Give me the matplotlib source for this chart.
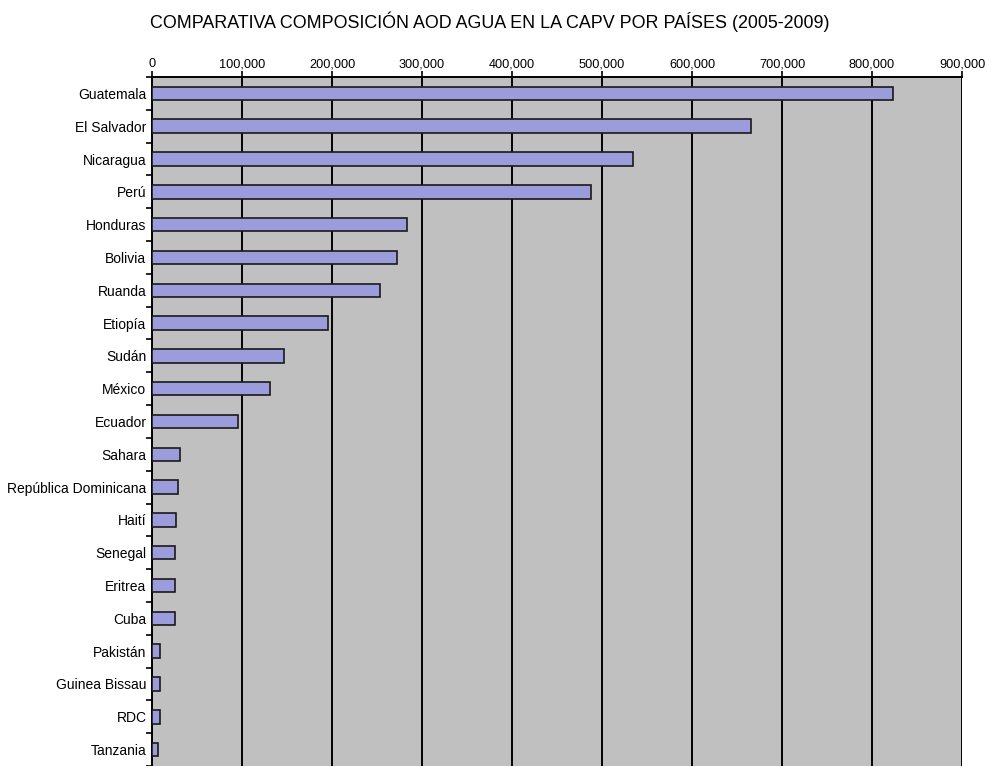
import numpy as np
import matplotlib.pyplot as plt
from matplotlib.ticker import FuncFormatter, FixedLocator

plt.rcParams['font.family'] = ['Liberation Sans', 'DejaVu Sans']

countries = ['Guatemala', 'El Salvador', 'Nicaragua', 'Perú', 'Honduras', 'Bolivia',
             'Ruanda', 'Etiopía', 'Sudán', 'México', 'Ecuador', 'Sahara',
             'República Dominicana', 'Haití', 'Senegal', 'Eritrea', 'Cuba',
             'Pakistán', 'Guinea Bissau', 'RDC', 'Tanzania']
values = [823000, 666000, 534000, 488000, 283000, 272500, 253500, 195500, 146500,
          131000, 95500, 31000, 29000, 27000, 25500, 25500, 25500,
          9000, 9000, 9000, 6500]
xticks = [0, 100000, 200000, 300000, 400000, 500000, 600000, 700000, 800000, 900000]

fig = plt.figure(figsize=(9.99, 7.66), dpi=100)
ax = fig.add_axes([0.1522, 0.0, 0.963 - 0.1522, 0.8995])
ax.set_facecolor('#c0c0c0')

y = np.arange(len(countries))
ax.barh(y, values, height=0.41, color='#9c9cdc', edgecolor='#1a1a1a', linewidth=1.2, zorder=3)

ax.set_xlim(0, 900000)
ax.set_ylim(len(countries) - 0.5, -0.5)
ax.set_xticks(xticks)
ax.xaxis.set_major_formatter(FuncFormatter(lambda v, p: f'{int(v):,}'))
ax.xaxis.tick_top()
ax.tick_params(axis='x', direction='out', length=4, width=1.2, labelsize=9.2, pad=1, colors='black')
ax.grid(axis='x', color='black', linewidth=1.4, zorder=1)

ax.set_yticks(y)
ax.set_yticklabels(countries, fontsize=10)
ax.tick_params(axis='y', length=0, pad=4)
ax.yaxis.set_minor_locator(FixedLocator(np.arange(-0.5, len(countries), 1)))
ax.tick_params(axis='y', which='minor', direction='out', length=4, width=1.2)

for s in ['right', 'bottom']:
    ax.spines[s].set_visible(False)
for s in ['top', 'left']:
    ax.spines[s].set_linewidth(1.4)

fig.text(0.49, 0.971, 'COMPARATIVA COMPOSICIÓN AOD AGUA EN LA CAPV POR PAÍSES (2005-2009)',
         ha='center', va='center', fontsize=12.9)

fig.savefig('out.png', dpi=100)
